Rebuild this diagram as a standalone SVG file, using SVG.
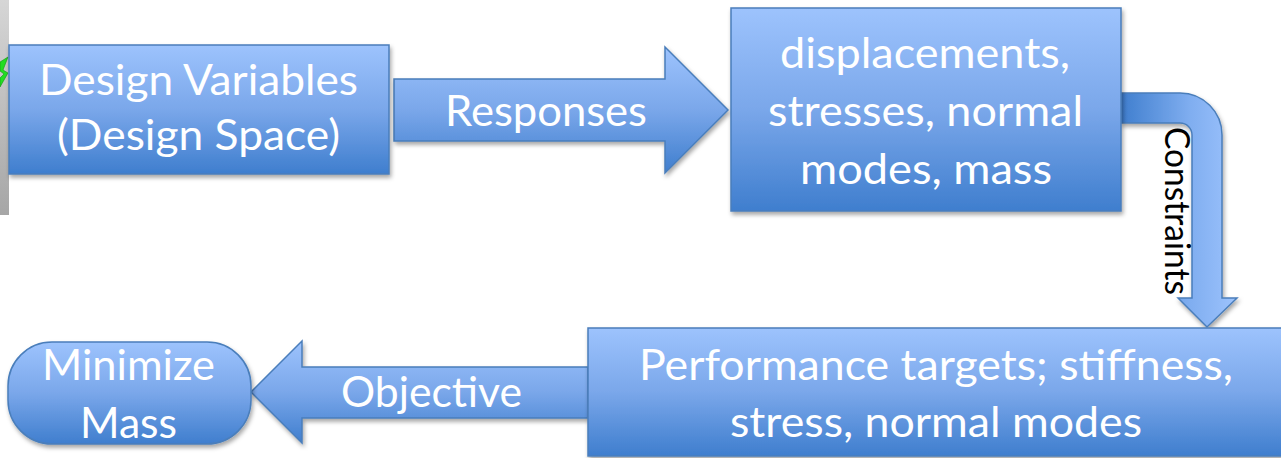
<svg xmlns="http://www.w3.org/2000/svg" width="1281" height="458" viewBox="0 0 1281 458">
<defs>
<linearGradient id="gv" x1="0" y1="0" x2="0" y2="1">
<stop offset="0" stop-color="#9dc3fd"/>
<stop offset="0.5" stop-color="#7aa7ea"/>
<stop offset="1" stop-color="#3f7ece"/>
</linearGradient>
<linearGradient id="gh" gradientUnits="userSpaceOnUse" x1="1121" y1="0" x2="1237" y2="0">
<stop offset="0" stop-color="#3f7ece"/>
<stop offset="0.6" stop-color="#80aef0"/>
<stop offset="1" stop-color="#9dc3fd"/>
</linearGradient>
<linearGradient id="gray" x1="0" y1="0" x2="0" y2="1">
<stop offset="0" stop-color="#d6d6d6"/>
<stop offset="1" stop-color="#a6a6a6"/>
</linearGradient>
<filter id="sh" x="-10%" y="-10%" width="120%" height="130%">
<feDropShadow dx="1.5" dy="3" stdDeviation="2" flood-color="#000" flood-opacity="0.35"/>
</filter>
<style>
.shape{fill:url(#gv);stroke:#4a7ebb;stroke-width:1.5;filter:url(#sh)}
.t{font-family:Lato,"Open Sans","Liberation Sans",sans-serif;font-size:42px;fill:#ffffff;text-anchor:start}
.k{font-family:Lato,"Open Sans","Liberation Sans",sans-serif;font-size:34px;fill:#000000}
</style>
</defs>
<rect width="1281" height="458" fill="#ffffff"/>
<g id="sidebar">
<rect x="0" y="0" width="9" height="215" fill="url(#gray)"/>
<polygon points="0,62 8,57 3,70 8,73 0,87 0,78 4,74 0,71" fill="#22dd22" stroke="#119911" stroke-width="0.6"/>
</g>
<g id="connectors">
<g id="responses">
<path class="shape" d="M394,79 H665 V47 L728,110 L665,173 V141 H394 Z"/>
<text class="t" x="445" y="126" textLength="202" lengthAdjust="spacingAndGlyphs">Responses</text>
</g>
<g id="constraints">
<path d="M1121,93 H1180 A42,42 0 0 1 1222,135 V298 H1237 L1207,327 L1178,298 H1192 V135 A12,12 0 0 0 1180,123 H1121 Z" fill="url(#gh)" stroke="#4a7ebb" stroke-width="1.5" filter="url(#sh)"/>
<text class="k" transform="translate(1165,127) rotate(90)" x="0" y="0" textLength="168" lengthAdjust="spacingAndGlyphs">Constraints</text>
</g>
<g id="objective">
<path class="shape" d="M588,367 H302 V341 L251,392 L302,443 V418 H588 Z"/>
<text class="t" x="341" y="407" textLength="181" lengthAdjust="spacingAndGlyphs">Objective</text>
</g>
</g>
<g id="node-design-variables">
<rect class="shape" x="9" y="45" width="380" height="129"/>
<text class="t" x="39" y="95" textLength="319" lengthAdjust="spacingAndGlyphs">Design Variables</text>
<text class="t" x="57" y="150" textLength="283" lengthAdjust="spacingAndGlyphs">(Design Space)</text>
</g>
<g id="node-responses">
<rect class="shape" x="731" y="8" width="390" height="203"/>
<text class="t" x="780" y="68" textLength="290" lengthAdjust="spacingAndGlyphs">displacements,</text>
<text class="t" x="768" y="126" textLength="315" lengthAdjust="spacingAndGlyphs">stresses, normal</text>
<text class="t" x="800" y="184" textLength="252" lengthAdjust="spacingAndGlyphs">modes, mass</text>
</g>
<g id="node-performance">
<rect class="shape" x="588" y="328" width="710" height="128"/>
<text class="t" x="639" y="380" textLength="594" lengthAdjust="spacingAndGlyphs">Performance targets; stiffness,</text>
<text class="t" x="730" y="437" textLength="412" lengthAdjust="spacingAndGlyphs">stress, normal modes</text>
</g>
<g id="node-minimize">
<rect class="shape" x="8" y="342" width="243" height="102" rx="44" ry="44"/>
<text class="t" x="42" y="380" textLength="173" lengthAdjust="spacingAndGlyphs">Minimize</text>
<text class="t" x="80" y="438" textLength="97" lengthAdjust="spacingAndGlyphs">Mass</text>
</g>
</svg>
